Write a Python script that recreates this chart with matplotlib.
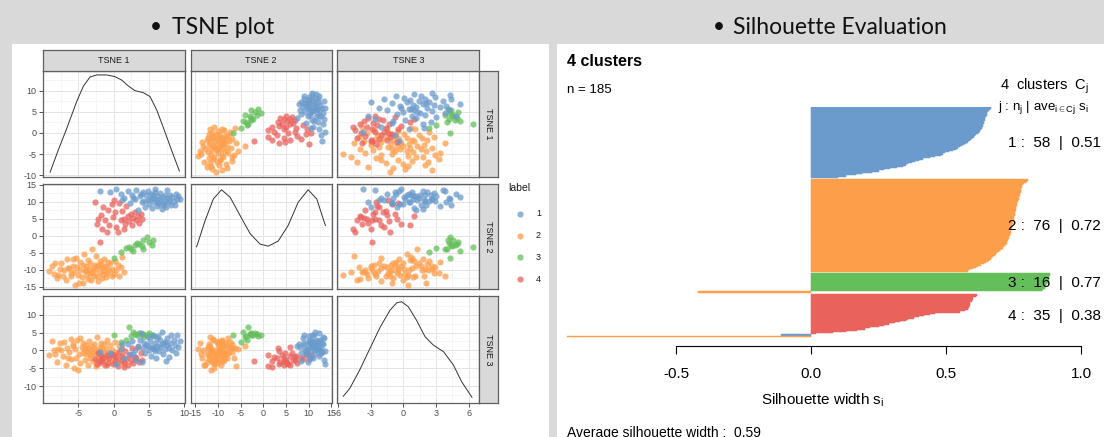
import matplotlib
matplotlib.use("Agg")
import matplotlib.pyplot as plt
from matplotlib.patches import Rectangle
from matplotlib.transforms import blended_transform_factory

plt.rcParams['font.family'] = ['Liberation Sans', 'DejaVu Sans']
plt.rcParams['axes.unicode_minus'] = False
plt.rcParams['mathtext.fontset'] = 'custom'
plt.rcParams['mathtext.rm'] = 'Liberation Sans'
plt.rcParams['mathtext.it'] = 'Liberation Sans:italic'
plt.rcParams['mathtext.bf'] = 'Liberation Sans:bold'

W, H = 1104, 437

# ---------------- TSNE coordinates, one list per cluster and dimension
c1_t1 = [-1.9, -0.5, 0.3, 1.0, 1.5, 2.0, 2.3, 2.6, 3.0, 3.2, 3.5, 3.7, 4.0, 4.1, 4.3, 4.5, 4.6, 4.8, 5.0, 5.1,
         5.3, 5.4, 5.5, 5.7, 5.8, 6.0, 6.1, 6.2, 6.4, 6.5, 6.6, 6.8, 6.9, 7.0, 7.2, 7.3, 7.4, 7.5, 7.6, 7.8,
         7.9, 8.0, 8.1, 8.3, 8.5, 8.7, 8.8, 8.9, 9.1, 9.4, 2.8, 3.9, 5.9, 6.3, 4.9, 7.1, 5.6, 1.2]
c1_t2 = [13.0, 12.7, 13.7, 12.3, 11.0, 13.2, 9.5, 12.0, 10.8, 13.5, 7.4, 11.6, 9.8, 12.8, 10.3, 8.4, 11.9, 13.1,
         9.2, 10.7, 12.3, 8.0, 11.2, 9.9, 12.9, 10.4, 8.7, 11.7, 9.4, 12.5, 10.9, 7.8, 11.4, 9.6, 12.1, 10.1,
         8.3, 11.0, 13.3, 9.8, 10.6, 12.0, 8.9, 11.5, 10.2, 9.0, 12.4, 10.8, 11.6, 10.8, 11.2, 12.2, 13.6,
         10.0, 10.5, 9.1, 11.9, 10.5]
c1_t3 = [-0.4, -0.8, -3.7, 0.5, -2.0, 1.8, -1.0, 2.5, 0.2, -2.6, 1.2, 3.0, -3.2, 0.8, 2.0, -0.6, 1.5, 3.8, 0.0,
         2.6, -1.5, 1.0, 4.2, 0.5, 2.2, -2.2, 3.4, 1.2, -0.3, 2.8, 0.9, 1.8, 5.2, -1.0, 0.3, 2.4, -3.0, 1.4,
         3.6, 0.6, -1.8, 2.0, 4.4, 0.1, 2.9, 1.6, -0.7, 4.3, 1.0, 2.6, -0.9, 4.8, -0.2, 3.9, 1.3, 2.1, 0.7, 1.9]

c2_t1 = [-9.2, -8.8, -8.5, -8.0, -7.6, -7.4, -7.2, -7.0, -6.8, -6.6, -6.3, -6.1, -6.0, -5.8, -5.6, -5.5, -5.3,
         -5.2, -5.0, -4.9, -4.8, -4.7, -4.5, -4.4, -4.3, -4.2, -4.0, -3.9, -3.8, -3.7, -3.6, -3.5, -3.4, -3.3,
         -3.2, -3.1, -3.0, -2.9, -2.8, -2.7, -2.6, -2.5, -2.4, -2.3, -2.2, -2.0, -1.9, -1.8, -1.7, -1.6, -1.5,
         -1.4, -1.3, -1.2, -1.1, -1.0, -0.9, -0.8, -0.6, -0.5, -0.3, -0.2, 0.0, 0.2, 0.4, 0.6, 0.8, 1.0, 1.2,
         1.5, -8.3, -7.9, -6.4, -5.7, -3.9, -2.1]
c2_t2 = [-10.5, -9.0, -11.2, -12.5, -9.8, -8.2, -11.8, -10.2, -13.0, -7.0, -9.5, -11.0, -12.0, -8.8, -10.8,
         -14.5, -6.5, -9.2, -11.5, -13.8, -7.8, -10.0, -12.2, -8.5, -14.0, -5.5, -10.5, -9.0, -11.6, -12.8,
         -7.2, -9.8, -10.9, -8.0, -13.2, -4.0, -11.0, -9.4, -12.0, -8.7, -10.2, -6.0, -11.8, -9.0, -13.5, -7.5,
         -10.6, -8.3, -12.5, -9.6, -11.2, -6.8, -10.0, -8.9, -12.1, -9.3, -11.0, -7.7, -10.4, -8.2, -12.0,
         -9.7, -11.3, -7.4, -10.0, -8.7, -11.8, -9.2, -6.2, -10.8, -8.0, -11.5, -9.5, -7.0, -10.2, -8.8]
c2_t3 = [-1.2, 2.6, 0.2, -3.2, 2.0, 0.0, -1.6, 2.3, -4.2, 0.8, -0.5, 3.3, -2.5, 1.2, -4.8, 0.4, -2.0, 2.9, -5.5,
         -1.0, 3.4, -3.5, 0.9, -0.8, 2.1, 0.3, -2.8, 1.6, -0.3, -4.0, 0.6, 2.6, -1.4, -2.2, 0.0, 1.3, -0.6,
         -3.0, 1.9, -1.1, 0.5, -4.5, 3.8, -0.2, -2.0, 1.0, -3.6, 2.2, -0.9, 0.8, -2.6, -0.4, 1.7, -1.8, 0.3,
         -4.1, 2.8, -0.7, -2.3, 1.4, -1.2, 0.1, -3.3, 2.4, -0.5, -2.7, 1.1, -1.5, 0.7, -3.8, -0.9, 0.4, -2.0,
         1.8, -1.0, -3.0]

c3_t1 = [0.0, 1.1, 1.8, 2.2, 2.5, 3.0, 3.3, 3.6, 4.0, 4.2, 4.2, 4.7, 5.0, 5.4, 5.6, 2.8]
c3_t2 = [-6.7, -4.8, -3.5, -3.3, -3.8, -2.8, -2.3, -2.6, -3.0, -1.4, -4.0, -0.4, -1.8, -2.8, -1.2, -4.4]
c3_t3 = [4.3, 2.4, 3.0, 6.4, 4.0, 4.7, 4.2, 4.9, 4.5, 4.6, 3.8, 4.3, 5.0, 4.4, 4.1, 5.2]

c4_t1 = [-2.6, -2.4, -2.0, -1.8, -1.7, -1.5, -1.2, -1.0, -0.8, -0.6, -0.3, -0.1, 0.2, 0.3, 0.6, 0.8, 1.0, 1.2,
         1.4, 1.6, 1.8, 2.0, 2.2, 2.4, 2.6, 2.8, 3.0, 3.2, 3.4, 3.6, 3.8, 4.0, 0.0, -2.2, 1.5]
c4_t2 = [10.0, 3.5, -2.0, 6.0, 2.0, 8.4, 4.5, 1.1, 7.5, 3.0, 9.4, 5.5, 6.9, 2.4, 1.0, 9.6, 4.6, 7.2, 5.0, 3.5,
         8.8, 5.8, 4.2, 6.5, 3.2, 5.2, 7.0, 4.5, 5.8, 3.8, 6.4, 5.0, 10.6, 4.8, 2.0]
c4_t3 = [-2.5, -3.8, -2.9, -1.5, -3.0, -2.2, -4.2, -1.2, -3.5, -2.0, -1.0, -3.9, -2.6, -1.8, -4.4, -0.5, -2.9,
         -1.6, -3.3, -0.2, -2.4, -4.0, -1.3, -2.8, 0.6, -3.6, -1.9, -2.2, 1.0, -3.2, -0.8, -2.6, -1.4, -0.6,
         -4.6]

# density curves on the diagonal (in panel units)
dens1_x = [-9.0, -7.85, -6.66, -5.24, -4.3, -3.36, -2.4, -1.0, 0.18, 1.13, 2.07, 3.0, 4.2, 5.14, 6.1, 7.0, 8.2, 9.3]
dens1_y = [-9.3, -4.1, 1.0, 7.4, 11.0, 13.2, 13.7, 13.7, 13.3, 12.5, 11.1, 10.0, 9.5, 8.6, 5.4, 1.4, -4.1, -9.0]
dens2_x = [-14.7, -12.8, -11.0, -9.2, -7.3, -5.1, -2.9, -0.7, 1.1, 3.3, 5.5, 7.7, 9.9, 11.8, 13.7]
dens2_y = [-3.3, 4.5, 10.8, 13.5, 11.3, 5.9, 0.6, -2.5, -3.1, -1.6, 3.0, 9.8, 13.5, 10.8, 3.0]
dens3_x = [-5.5, -4.9, -4.0, -3.05, -2.1, -1.2, -0.6, -0.15, 0.46, 1.2, 2.0, 2.75, 3.7, 4.6, 5.36, 6.3]
dens3_y = [-12.8, -10.6, -5.5, 0.6, 6.6, 11.3, 13.3, 13.6, 12.2, 8.5, 3.8, 1.5, -0.4, -4.1, -8.8, -13.1]

var_names = ['TSNE 1', 'TSNE 2', 'TSNE 3']
labels = ['1', '2', '3', '4']
colors = ['#6b9bcc', '#fd9e4b', '#64bf5a', '#ea625c']

# ---------------- silhouette widths, sorted within cluster (top to bottom)
sil1 = [0.668, 0.662, 0.66, 0.656, 0.653, 0.651, 0.65, 0.648, 0.646, 0.645, 0.643, 0.641, 0.64, 0.639, 0.637,
        0.636, 0.634, 0.633, 0.63, 0.626, 0.622, 0.617, 0.612, 0.607, 0.603, 0.598, 0.594, 0.588, 0.581, 0.574,
        0.566, 0.559, 0.553, 0.545, 0.538, 0.525, 0.51, 0.497, 0.49, 0.48, 0.46, 0.44, 0.416, 0.40, 0.386,
        0.375, 0.36, 0.35, 0.34, 0.32, 0.293, 0.27, 0.25, 0.225, 0.19, 0.165, 0.13, 0.10]
sil2 = [0.803, 0.80, 0.797, 0.79, 0.785, 0.782, 0.78, 0.779, 0.778, 0.777, 0.776, 0.775, 0.774, 0.773, 0.772,
        0.771, 0.769, 0.767, 0.765, 0.764, 0.763, 0.762, 0.761, 0.76, 0.759, 0.758, 0.757, 0.756, 0.755, 0.754,
        0.753, 0.752, 0.751, 0.75, 0.749, 0.748, 0.747, 0.746, 0.745, 0.744, 0.743, 0.742, 0.741, 0.74, 0.739,
        0.738, 0.737, 0.735, 0.733, 0.731, 0.729, 0.727, 0.725, 0.722, 0.719, 0.715, 0.71, 0.705, 0.70, 0.695,
        0.69, 0.685, 0.68, 0.675, 0.67, 0.665, 0.66, 0.655, 0.648, 0.64, 0.63, 0.62, 0.61, 0.60, 0.59, 0.583]
sil3 = [0.885, 0.884, 0.883, 0.882, 0.881, 0.88, 0.878, 0.876, 0.874, 0.872, 0.87, 0.868, 0.865, 0.86, 0.855,
        -0.42]
sil4 = [0.614, 0.61, 0.60, 0.60, 0.60, 0.595, 0.59, 0.59, 0.59, 0.59, 0.585, 0.58, 0.58, 0.57, 0.55, 0.46,
        0.44, 0.42, 0.40, 0.38, 0.36, 0.35, 0.33, 0.31, 0.29, 0.27, 0.25, 0.22, 0.20, 0.17, 0.13, 0.08, 0.02,
        -0.11, -0.905]
# label (colour) of each member
lab1 = [1] * 58
lab2 = [2] * 76
lab3 = [3] * 15 + [2]
lab4 = [4] * 33 + [1, 2]
sil_n = [58, 76, 16, 35]
sil_ave = [0.51, 0.72, 0.77, 0.38]
sil_total = 185
sil_avg_all = 0.59


def box(x0, y0, x1, y1):
    # pixel box (top-left origin) -> figure rect
    return [x0 / W, 1 - y1 / H, (x1 - x0) / W, (y1 - y0) / H]


def minors(major, lim):
    step = major[1] - major[0]
    out = [m + step / 2 for m in [major[0] - step] + major]
    return [m for m in out if lim[0] <= m <= lim[1]]


fig = plt.figure(figsize=(W / 100, H / 100), dpi=100)
fig.patch.set_facecolor('#d9d9d9')
fig.add_artist(Rectangle((12 / W, 0), (549 - 12) / W, 1 - 44 / H, transform=fig.transFigure,
                         facecolor='white', edgecolor='none', zorder=0))
fig.add_artist(Rectangle((557 / W, 0), (W - 557) / W, 1 - 44 / H, transform=fig.transFigure,
                         facecolor='white', edgecolor='none', zorder=0))

# slide headings
for bx, tx, txt in [(150, 172, 'TSNE plot'), (713, 733, 'Silhouette Evaluation')]:
    fig.text(bx / W, 1 - 27 / H, '\u2022', fontsize=15, family=['Lato', 'DejaVu Sans'], va='center', color='#111111')
    fig.text(tx / W, 1 - 27 / H, txt, fontsize=16.5, family=['Lato', 'DejaVu Sans'], va='center', color='#111111')

# ---------------- pairs plot
cols_px = [(42.7, 185), (190.7, 331.7), (337.3, 479.3)]
rows_px = [(70.7, 177.3), (184, 289.3), (296, 403)]
xlims = [(-10.05, 10.1), (-16.0, 15.1), (-6.05, 6.97)]
ylims = [(-10.5, 14.7), (-15.8, 15.2), (-14.7, 15.2)]
xmaj = [[-5, 0, 5, 10], [-15, -10, -5, 0, 5, 10, 15], [-6, -3, 0, 3, 6]]
ymaj = [[-10, -5, 0, 5, 10], [-15, -10, -5, 0, 5, 10, 15], [-10, -5, 0, 5, 10]]

clusters = [
    ([c2_t1, c2_t2, c2_t3], colors[1]),
    ([c4_t1, c4_t2, c4_t3], colors[3]),
    ([c3_t1, c3_t2, c3_t3], colors[2]),
    ([c1_t1, c1_t2, c1_t3], colors[0]),
]
dens = [(dens1_x, dens1_y), (dens2_x, dens2_y), (dens3_x, dens3_y)]
border = '#5f5f5f'

for i in range(3):
    for j in range(3):
        ax = fig.add_axes(box(cols_px[j][0], rows_px[i][0], cols_px[j][1], rows_px[i][1]))
        ax.set_xlim(xlims[j])
        ax.set_ylim(ylims[i])
        ax.set_xticks(xmaj[j])
        ax.set_yticks(ymaj[i])
        ax.set_xticks(minors(xmaj[j], xlims[j]), minor=True)
        ax.set_yticks(minors(ymaj[i], ylims[i]), minor=True)
        ax.grid(which='major', color='#e4e4e4', lw=0.7)
        ax.grid(which='minor', color='#f1f1f1', lw=0.5)
        ax.set_axisbelow(True)
        ax.tick_params(which='minor', length=0)
        ax.tick_params(which='major', length=3, width=0.6, color='#333333', labelsize=6.5,
                       labelcolor='#4d4d4d', pad=1.5)
        if j > 0:
            ax.tick_params(axis='y', length=0, labelleft=False)
        if i < 2:
            ax.tick_params(axis='x', length=0, labelbottom=False)
        for s in ax.spines.values():
            s.set_color(border)
            s.set_linewidth(0.9)
        if i == j:
            ax.plot(dens[i][0], dens[i][1], color='#333333', lw=0.7)
        else:
            for dims, c in clusters:
                ax.scatter(dims[j], dims[i], s=20, color=c, alpha=0.75, linewidths=0)

# strips
for j in range(3):
    sax = fig.add_axes(box(cols_px[j][0], 50, cols_px[j][1], rows_px[0][0]))
    sax.set_facecolor('#d9d9d9')
    sax.set_xticks([])
    sax.set_yticks([])
    for s in sax.spines.values():
        s.set_color(border)
        s.set_linewidth(0.9)
    sax.text(0.5, 0.5, var_names[j], ha='center', va='center', fontsize=6.5, color='#1a1a1a',
             transform=sax.transAxes)
for i in range(3):
    sax = fig.add_axes(box(cols_px[2][1], rows_px[i][0], 498, rows_px[i][1]))
    sax.set_facecolor('#d9d9d9')
    sax.set_xticks([])
    sax.set_yticks([])
    for s in sax.spines.values():
        s.set_color(border)
        s.set_linewidth(0.9)
    sax.text(0.5, 0.5, var_names[i], ha='center', va='center', fontsize=6.5, color='#1a1a1a',
             rotation=-90, transform=sax.transAxes)

# legend
fig.text(508 / W, 1 - 188 / H, 'label', fontsize=7.5, va='center', color='#1a1a1a')
leg = fig.add_axes(box(505, 203, 548, 290))
leg.set_xlim(0, 1)
leg.set_ylim(len(labels), 0)
leg.axis('off')
for k, lab in enumerate(labels):
    leg.scatter([0.35], [k + 0.5], s=20, color=colors[k], alpha=0.75, linewidths=0)
    leg.text(0.72, k + 0.5, lab, fontsize=6.5, va='center', color='#1a1a1a')

# ---------------- silhouette plot
sil_vals = [sil1, sil2, sil3, sil4]
sil_labs = [lab1, lab2, lab3, lab4]
gap = 1.3
unit_px = 1.215
top_px, axis_px = 107.3, 346
zero_px, px_per_unit = 811, 270

sax = fig.add_axes(box(560, top_px, 1100, axis_px))
sax.set_xlim((560 - zero_px) / px_per_unit, (1100 - zero_px) / px_per_unit)
sax.set_ylim((axis_px - top_px) / unit_px, 0)

ypos, widths, bcols, centers = [], [], [], []
y = 0.0
for k, vals in enumerate(sil_vals):
    if k > 0:
        y += gap
    start = y
    for v, lb in zip(vals, sil_labs[k]):
        ypos.append(y)
        widths.append(v)
        bcols.append(colors[lb - 1])
        y += 1
    centers.append((start + y) / 2)

sax.barh(ypos, widths, height=1.0, align='edge', color=bcols, edgecolor=bcols, linewidth=0.35)
for s in ['top', 'left', 'right']:
    sax.spines[s].set_visible(False)
sax.spines['bottom'].set_bounds(-0.5, 1.0)
sax.spines['bottom'].set_linewidth(0.8)
sax.set_yticks([])
sax.set_xticks([-0.5, 0.0, 0.5, 1.0])
sax.set_xticklabels(['-0.5', '0.0', '0.5', '1.0'])
sax.tick_params(axis='x', length=6, width=0.8, labelsize=11, pad=9)
sax.set_facecolor('none')

tr = blended_transform_factory(fig.transFigure, sax.transData)
for k in range(4):
    sax.text(1101 / W, centers[k], '%d :  %d  |  %.2f' % (k + 1, sil_n[k], sil_ave[k]),
             transform=tr, ha='right', va='center', fontsize=11, clip_on=False)

fig.text(1000 / W, 1 - 86 / H, r'4  clusters  $\mathrm{C_j}$', fontsize=10.5, va='center')
fig.text(998 / W, 1 - 108 / H, r'j : $\mathrm{n_j}$ | $\mathrm{ave_{i\in Cj}}$ $\mathrm{s_i}$',
         fontsize=9.5, va='center')
fig.text(567 / W, 1 - 62 / H, '4 clusters', fontsize=11.5, fontweight='bold', va='center')
fig.text(567 / W, 1 - 90 / H, 'n = %d' % sil_total, fontsize=9.5, va='center')
fig.text(823 / W, 1 - 400 / H, r'Silhouette width $\mathrm{s_i}$', fontsize=11, ha='center', va='center')
fig.text(567 / W, 1 - 433 / H, 'Average silhouette width :  %.2f' % sil_avg_all, fontsize=10, va='center')

fig.savefig('out.png', dpi=100, facecolor=fig.get_facecolor())
